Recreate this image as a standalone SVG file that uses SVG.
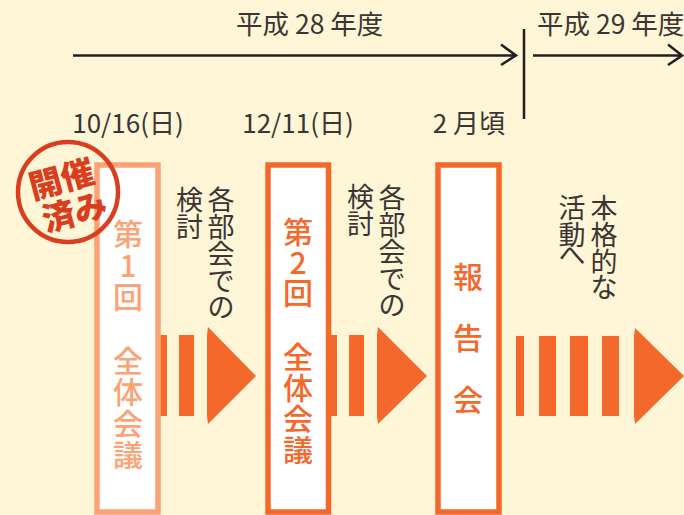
<svg xmlns="http://www.w3.org/2000/svg" width="684" height="515" viewBox="0 0 684 515">
<style>
text{font-family:"Noto Sans CJK JP","Noto Sans",sans-serif}
.h{font-size:26.500px;fill:#3a3533}
.d{font-size:26px;fill:#3a3533;text-anchor:middle}
.v{font-size:27px;fill:#3a3533;text-anchor:middle}
.t{font-size:30px;text-anchor:middle;font-weight:500}
.box{fill:#fff;stroke-width:5.5}
.ar{fill:#f4682b}
.ln{fill:none;stroke:#231f20;stroke-width:2.5}
</style>
<rect width="684" height="515" fill="#fff5d7"/>
<g id="timeline">
<text class="h" x="236" y="34">平成 28 年度</text>
<text class="h" x="537" y="34">平成 29 年度</text>
<path class="ln" d="M73 55.500H516M501 44.500L516 55.500L501 65M533 55.500H682M668 44.500L682 55.500L668 65"/>
<path class="ln" d="M524 29V119"/>
</g>
<g id="dates">
<text class="d" x="128" y="133">10/16(日)</text>
<text class="d" x="298" y="133">12/11(日)</text>
<text class="d" x="469" y="133">2 月頃</text>
</g>
<g id="connectors">
<g class="ar">
<rect x="159" y="335" width="8" height="81"/><rect x="179" y="335" width="15" height="81"/><path d="M207 335L208 327L256 376L208 424L207 416Z"/>
<rect x="331" y="335" width="6" height="81"/><rect x="349" y="335" width="15" height="81"/><path d="M377 335L378 327L427 376L378 424L377 416Z"/>
<rect x="516" y="336" width="8" height="80"/><rect x="539" y="336" width="17" height="80"/><rect x="570" y="336" width="18" height="80"/><rect x="602" y="336" width="17" height="80"/><path d="M634 336L635 328L684 376L635 424L634 416Z"/>
</g>
</g>
<g id="node-1">
<rect class="box" x="97" y="165" width="61" height="347" stroke="#fda274"/>
<text class="t" fill="#fda274" x="128 128 128 128 128 128 128" y="245 277 308 372 403 435 466">第1回全体会議</text>
</g>
<g id="node-2">
<rect class="box" x="268" y="165" width="60.500" height="347" stroke="#f4682b"/>
<text class="t" fill="#f4682b" x="298 298 298 298 298 298 298" y="243 274 304 368 399 430 461">第2回全体会議</text>
</g>
<g id="node-3">
<rect class="box" x="438" y="165" width="61" height="347" stroke="#f4682b"/>
<text class="t" fill="#f4682b" x="468 468 468" y="288 349 411" font-weight="700">報告会</text>
</g>
<g id="label-1">
<text class="v" x="221 221 221 221 221" y="210 237 264 291 317">各部会での</text>
<text class="v" x="189.500 189.500" y="210 237">検討</text>
</g>
<g id="label-2">
<text class="v" x="392 392 392 392 392" y="208 235 262 289 315">各部会での</text>
<text class="v" x="360.500 360.500" y="207 234">検討</text>
</g>
<g id="label-3">
<text class="v" x="604 604 604 604" y="218 245 272 297">本格的な</text>
<text class="v" x="572 572 572" y="218 245 265">活動へ</text>
</g>
<g id="stamp">
<circle cx="68" cy="192" r="50" fill="none" stroke="#d93f1f" stroke-width="4.500"/>
<g transform="rotate(-15 68 192)" fill="#d93f1f" font-weight="900" font-size="33" text-anchor="middle">
<text x="65" y="190">開催</text>
<text x="69" y="225">済み</text>
</g>
</g>
</svg>
